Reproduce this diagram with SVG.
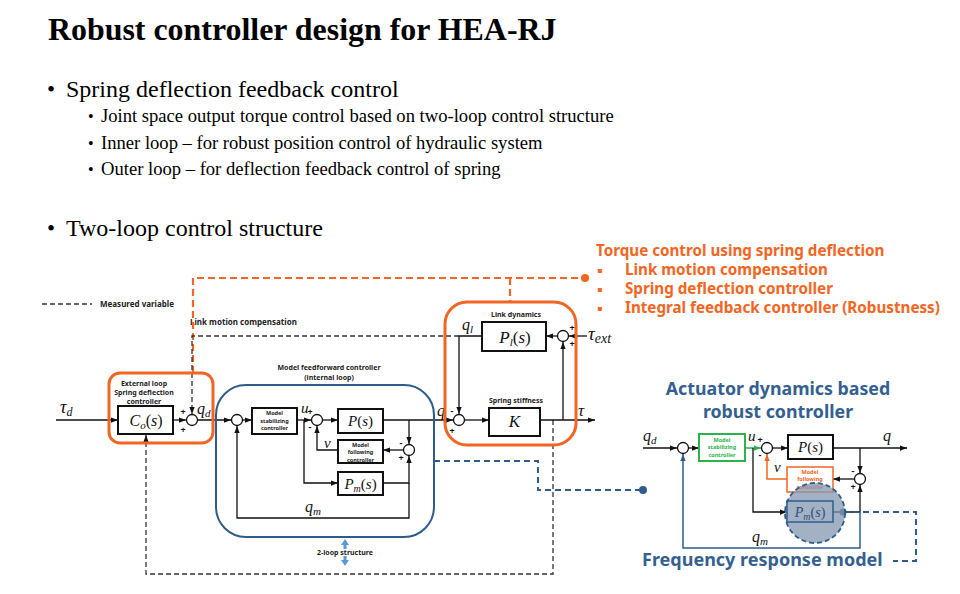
<svg xmlns="http://www.w3.org/2000/svg" width="960" height="594" viewBox="0 0 960 594">
<defs>
<marker id="ab" viewBox="0 0 8 6" refX="8" refY="3" markerWidth="7" markerHeight="5.5" markerUnits="userSpaceOnUse" orient="auto"><path d="M0,0 L8,3 L0,6 z" fill="#111"/></marker>
<marker id="ag" viewBox="0 0 8 6" refX="8" refY="3" markerWidth="7" markerHeight="5.5" markerUnits="userSpaceOnUse" orient="auto"><path d="M0,0 L8,3 L0,6 z" fill="#2DB34A"/></marker>
<marker id="ao" viewBox="0 0 8 6" refX="8" refY="3" markerWidth="7" markerHeight="5.5" markerUnits="userSpaceOnUse" orient="auto"><path d="M0,0 L8,3 L0,6 z" fill="#F26522"/></marker>
<marker id="abl" viewBox="0 0 8 6" refX="8" refY="3" markerWidth="7" markerHeight="5.5" markerUnits="userSpaceOnUse" orient="auto"><path d="M0,0 L8,3 L0,6 z" fill="#2E5D8C"/></marker>
</defs>
<style>
.t{font-family:"Liberation Serif","Times New Roman",serif;fill:#000}
.s{font-family:"Noto Sans","DejaVu Sans",sans-serif;font-weight:bold;fill:#222}
.m{font-family:"Liberation Serif",serif;font-style:italic;fill:#111}
.u{font-style:normal}
.ln{fill:none;stroke:#111;stroke-width:1.3}
.box{fill:#fff;stroke:#111;stroke-width:2}
.sum{fill:#fff;stroke:#111;stroke-width:1.3}
.dash{fill:none;stroke:#333;stroke-width:1.3;stroke-dasharray:5 3}
.odash{fill:none;stroke:#F26522;stroke-width:2.2;stroke-dasharray:7 4}
.bdash{fill:none;stroke:#2E5D8C;stroke-width:2;stroke-dasharray:6 4}
.obox{fill:none;stroke:#F26522;stroke-width:3}
.sg{font-family:"Noto Sans",sans-serif;font-weight:bold;font-size:9px;fill:#111;text-anchor:middle}
.sm{font-size:7px;text-anchor:middle}
.tiny{font-size:5.5px}
.or{font-family:"Noto Sans","DejaVu Sans",sans-serif;font-weight:bold;font-size:15.2px;fill:#F26522}
.bl{font-family:"DejaVu Sans",sans-serif;font-size:8px;fill:#F26522}
.bh{font-family:"Noto Sans","DejaVu Sans",sans-serif;font-weight:bold;fill:#34608F}
</style>
<rect width="960" height="594" fill="#fff"/>

<g id="title-text">
<text class="t" x="48" y="40" font-size="31.9" font-weight="bold">Robust controller design for HEA-RJ</text>
<text class="t" x="47" y="97" font-size="23">•</text>
<text class="t" x="66" y="97" font-size="24">Spring deflection feedback control</text>
<text class="t" x="88" y="122" font-size="16">•</text>
<text class="t" x="101" y="122" font-size="18.6">Joint space output torque control based on two-loop control structure</text>
<text class="t" x="88" y="149" font-size="16">•</text>
<text class="t" x="101" y="149" font-size="18.6">Inner loop – for robust position control of hydraulic system</text>
<text class="t" x="88" y="175" font-size="16">•</text>
<text class="t" x="101" y="175" font-size="18.6">Outer loop – for deflection feedback control of spring</text>
<text class="t" x="47" y="236" font-size="23">•</text>
<text class="t" x="66" y="236" font-size="24">Two-loop control structure</text>
</g>

<g id="torque-notes">
<text class="or" x="596" y="256">Torque control using spring deflection</text>
<text class="bl" x="597" y="273">▪</text><text class="or" x="625" y="275">Link motion compensation</text>
<text class="bl" x="597" y="292">▪</text><text class="or" x="625" y="294">Spring deflection controller</text>
<text class="bl" x="597" y="311">▪</text><text class="or" x="625" y="313">Integral feedback controller (Robustness)</text>
</g>

<g id="legend">
<line class="dash" x1="42" y1="304" x2="92" y2="304"/>
<text class="s" x="100" y="307" font-size="8">Measured variable</text>
<text class="s" x="190" y="325" font-size="8">Link motion compensation</text>
</g>

<g id="connectors">
<path class="odash" d="M193,373 V278 H585"/>
<path class="odash" d="M510,278 V302"/>
<circle cx="585" cy="278" r="4" fill="#F26522"/>
<path class="dash" d="M459,336 H192 V414" marker-end="url(#ab)"/>
<path class="dash" d="M553,420 V574 H146 V435" marker-end="url(#ab)"/>
<line class="ln" x1="56" y1="420" x2="118" y2="420" marker-end="url(#ab)"/>
<line class="ln" x1="173" y1="420" x2="186" y2="420" marker-end="url(#ab)"/>
<line class="ln" x1="197" y1="420" x2="231" y2="420" marker-end="url(#ab)"/>
<line class="ln" x1="242" y1="420" x2="252" y2="420" marker-end="url(#ab)"/>
<line class="ln" x1="297" y1="420" x2="311" y2="420" marker-end="url(#ab)"/>
<line class="ln" x1="322" y1="420" x2="338" y2="420" marker-end="url(#ab)"/>
<line class="ln" x1="383" y1="420" x2="453" y2="420" marker-end="url(#ab)"/>
<path class="ln" d="M409,420 V444" marker-end="url(#ab)"/>
<line class="ln" x1="403" y1="450" x2="383" y2="450" marker-end="url(#ab)"/>
<path class="ln" d="M338,450 H317 V426" marker-end="url(#ab)"/>
<path class="ln" d="M304,420 V483 H338" marker-end="url(#ab)"/>
<path class="ln" d="M383,483 H409 V456" marker-end="url(#ab)"/>
<path class="ln" d="M409,483 V518 H237 V426" marker-end="url(#ab)"/>
<line class="ln" x1="465" y1="420" x2="489" y2="420" marker-end="url(#ab)"/>
<line class="ln" x1="540" y1="420" x2="595" y2="420" marker-end="url(#ab)"/>
<path class="ln" d="M563,420 V342" marker-end="url(#ab)"/>
<line class="ln" x1="587" y1="336" x2="569" y2="336" marker-end="url(#ab)"/>
<line class="ln" x1="557" y1="336" x2="546" y2="336" marker-end="url(#ab)"/>
<path class="ln" d="M482,336 H459 V414" marker-end="url(#ab)"/>
<path class="bdash" d="M434,461 H538 V490 H643"/>
<circle cx="643" cy="490" r="4" fill="#2E5D8C"/>
<path d="M345,539 L341,545 H343.5 V549 H346.5 V545 H349 Z" fill="#5B9BD5"/>
<path d="M345,566 L341,560 H343.5 V556 H346.5 V560 H349 Z" fill="#5B9BD5"/>
<line class="ln" x1="643" y1="448" x2="677" y2="448" marker-end="url(#ab)"/>
<line class="ln" x1="689" y1="448" x2="699" y2="448" marker-end="url(#ab)"/>
<line x1="745" y1="448" x2="761" y2="448" stroke="#2DB34A" stroke-width="1.5" marker-end="url(#ag)"/>
<line class="ln" x1="773" y1="448" x2="788" y2="448" marker-end="url(#ab)"/>
<line class="ln" x1="833" y1="448" x2="907" y2="448" marker-end="url(#ab)"/>
<path class="ln" d="M860,448 V473" marker-end="url(#ab)"/>
<line class="ln" x1="854" y1="479" x2="833" y2="479" marker-end="url(#ab)"/>
<path d="M787,479 H767 V454" fill="none" stroke="#F26522" stroke-width="1.5" marker-end="url(#ao)"/>
<path class="ln" d="M753,448 V512 H787" marker-end="url(#ab)"/>
<path class="ln" d="M833,512 H860 V485" marker-end="url(#ab)"/>
<path d="M860,512 V548 H683 V454" fill="none" stroke="#2E5D8C" stroke-width="1.5" marker-end="url(#abl)"/>
<path class="bdash" d="M843,512 H916 V561 H893"/>
<circle cx="843" cy="512" r="3.5" fill="#2E5D8C"/>
</g>

<g id="external-loop">
<rect class="obox" x="109" y="373" width="104" height="70" rx="11"/>
<text class="s sm" x="144" y="386" font-size="7.5">External loop</text>
<text class="s sm" x="144" y="395" font-size="7.5">Spring deflection</text>
<text class="s sm" x="144" y="404" font-size="7.5">controller</text>
<rect class="box" x="118" y="406" width="55" height="28"/>
<text class="m" x="146" y="426" font-size="16" text-anchor="middle">C<tspan font-size="11" dy="3">o</tspan><tspan class="u" dy="-3">(</tspan>s<tspan class="u">)</tspan></text>
</g>

<g id="sum-qd">
<circle class="sum" cx="192" cy="420" r="5.5"/>
<text class="sg" x="183" y="415">+</text>
<text class="sg" x="183" y="433">+</text>
</g>

<g id="signal-labels">
<text class="m" x="60" y="413" font-size="18">τ<tspan font-size="12" dy="3">d</tspan></text>
<text class="m" x="197" y="414" font-size="16">q<tspan font-size="11" dy="3">d</tspan></text>
<text class="m" x="301" y="413" font-size="15">u</text>
<text class="m" x="324" y="448" font-size="15">v</text>
<text class="m" x="305" y="512" font-size="16">q<tspan font-size="11" dy="3">m</tspan></text>
<text class="m" x="437" y="416" font-size="16">q</text>
<text class="m" x="462" y="330" font-size="16">q<tspan font-size="11" dy="3">l</tspan></text>
<text class="m" x="578" y="416" font-size="17">τ</text>
<text class="m" x="588" y="340" font-size="19">τ<tspan font-size="14" dy="3">ext</tspan></text>
</g>

<g id="internal-loop">
<rect x="216" y="385" width="218" height="152" rx="30" fill="none" stroke="#2E5D8C" stroke-width="2"/>
<text class="s sm" x="329" y="370" font-size="7.5">Model feedforward controller</text>
<text class="s sm" x="329" y="380" font-size="7.5">(internal loop)</text>
<circle class="sum" cx="237" cy="420" r="5.5"/>
<text class="s sm" x="345" y="555" font-size="8">2-loop structure</text>
</g>

<g id="model-stabilizing">
<rect class="box" x="252" y="408" width="45" height="26" stroke-width="1.5"/>
<text class="s sm tiny" x="274.5" y="415">Model</text>
<text class="s sm tiny" x="274.5" y="422.5">stabilizing</text>
<text class="s sm tiny" x="274.5" y="430">controller</text>
</g>

<g id="sum-u">
<circle class="sum" cx="317" cy="420" r="5.5"/>
<text class="sg" x="310" y="415">+</text>
<text class="sg" x="310" y="430">-</text>
</g>

<g id="plant-p">
<rect class="box" x="338" y="409" width="45" height="24" stroke-width="1.5"/>
<text class="m" x="360.5" y="426" font-size="15" text-anchor="middle">P<tspan class="u">(</tspan>s<tspan class="u">)</tspan></text>
</g>

<g id="model-following">
<rect class="box" x="338" y="440" width="45" height="23" stroke-width="1.5"/>
<text class="s sm tiny" x="360.5" y="446.5">Model</text>
<text class="s sm tiny" x="360.5" y="454">following</text>
<text class="s sm tiny" x="360.5" y="461.5">controller</text>
</g>

<g id="sum-v">
<circle class="sum" cx="409" cy="450" r="5.5"/>
<text class="sg" x="401" y="446">-</text>
<text class="sg" x="401" y="461">+</text>
</g>

<g id="plant-pm">
<rect class="box" x="338" y="472" width="45" height="23" stroke-width="1.5"/>
<text class="m" x="360.5" y="489" font-size="15" text-anchor="middle">P<tspan font-size="10" dy="3">m</tspan><tspan class="u" dy="-3">(</tspan>s<tspan class="u">)</tspan></text>
</g>

<g id="link-dynamics">
<rect class="obox" x="445" y="302" width="131" height="143" rx="22"/>
<text class="s sm" x="516" y="317" font-size="7.5">Link dynamics</text>
<rect class="box" x="482" y="322" width="64" height="29"/>
<text class="m" x="515" y="343" font-size="17" text-anchor="middle">P<tspan font-size="11" dy="3">l</tspan><tspan class="u" dy="-3">(</tspan>s<tspan class="u">)</tspan></text>
<circle class="sum" cx="563" cy="336" r="5.5"/>
<text class="sg" x="572" y="331">+</text>
<text class="sg" x="572" y="347">+</text>
<text class="s sm" x="516" y="403" font-size="7.5">Spring stiffness</text>
<rect class="box" x="489" y="408" width="51" height="28"/>
<text class="m" x="514.5" y="427" font-size="17" text-anchor="middle">K</text>
<circle class="sum" cx="459" cy="420" r="5.5"/>
<text class="sg" x="452" y="414">-</text>
<text class="sg" x="452" y="434">+</text>
</g>

<g id="actuator-controller">
<text class="bh" x="778" y="395" font-size="17.8" text-anchor="middle">Actuator dynamics based</text>
<text class="bh" x="778" y="418" font-size="17.8" text-anchor="middle">robust controller</text>
<text class="m" x="643" y="441" font-size="16">q<tspan font-size="11" dy="3">d</tspan></text>
<circle class="sum" cx="683" cy="448" r="5.5"/>
<rect x="699" y="434" width="46" height="27" fill="#fff" stroke="#2DB34A" stroke-width="2"/>
<text class="s sm tiny" x="722" y="441.5" style="fill:#2DB34A">Model</text>
<text class="s sm tiny" x="722" y="449" style="fill:#2DB34A">stabilizing</text>
<text class="s sm tiny" x="722" y="456.5" style="fill:#2DB34A">controller</text>
<text class="m" x="748" y="441" font-size="15">u</text>
<circle class="sum" cx="767" cy="448" r="5.5"/>
<text class="sg" x="760" y="443">+</text>
<text class="sg" x="760" y="458">-</text>
<rect class="box" x="788" y="435" width="45" height="24" stroke-width="1.5"/>
<text class="m" x="810.5" y="452" font-size="15" text-anchor="middle">P<tspan class="u">(</tspan>s<tspan class="u">)</tspan></text>
<text class="m" x="883" y="441" font-size="16">q</text>
<circle class="sum" cx="860" cy="479" r="5.5"/>
<text class="sg" x="853" y="474">-</text>
<text class="sg" x="853" y="490">+</text>
<text class="m" x="774" y="472" font-size="15">v</text>
<rect x="787" y="467" width="46" height="25" fill="#fff" stroke="#F26522" stroke-width="1.5"/>
<text class="s sm tiny" x="810" y="473.5" style="fill:#F26522">Model</text>
<text class="s sm tiny" x="810" y="481" style="fill:#F26522">following</text>
<text class="s sm tiny" x="810" y="488.5" style="fill:#F26522">controller</text>
</g>

<g id="frequency-response-model">
<circle cx="815" cy="513" r="30" fill="#8497B0" fill-opacity="0.75" stroke="#2E5D8C" stroke-width="1.8" stroke-dasharray="5 3"/>
<rect x="787" y="501" width="46" height="21" fill="none" stroke="#2E5D8C" stroke-width="1.5"/>
<text class="m" x="810" y="517" font-size="14" text-anchor="middle" style="fill:#2E4E7A">P<tspan font-size="10" dy="3">m</tspan><tspan class="u" dy="-3">(</tspan>s<tspan class="u">)</tspan></text>
<text class="m" x="752" y="542" font-size="16">q<tspan font-size="11" dy="3">m</tspan></text>
<text class="bh" x="642" y="566" font-size="18">Frequency response model</text>
</g>
</svg>
